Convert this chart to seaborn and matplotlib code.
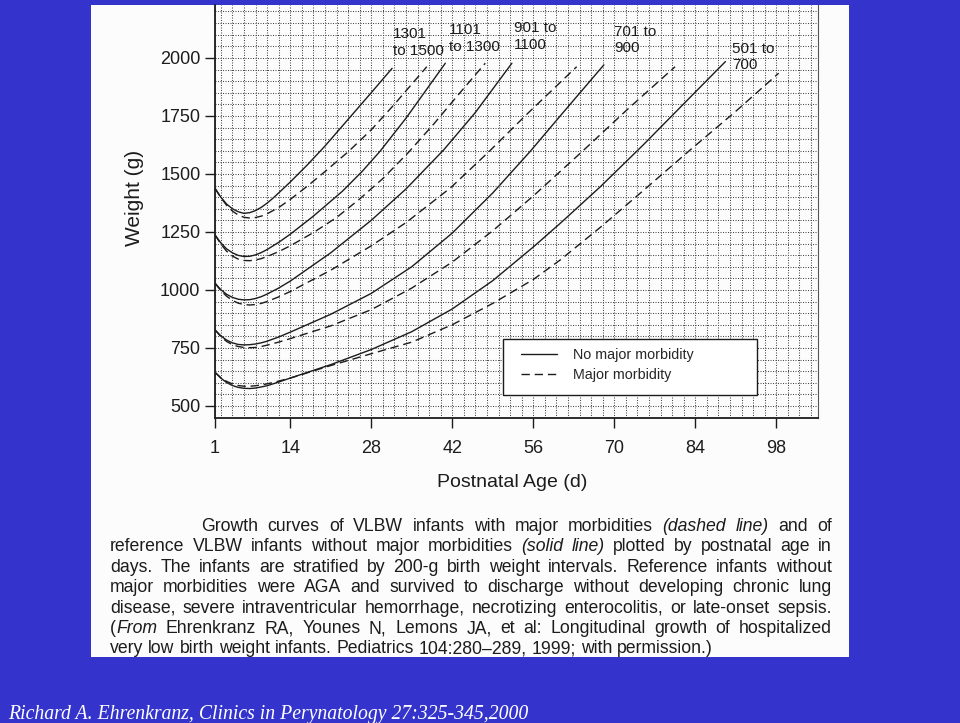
import matplotlib
matplotlib.use("Agg")
import matplotlib.pyplot as plt
from matplotlib.lines import Line2D
from matplotlib.patches import Rectangle
from matplotlib.ticker import MultipleLocator
import pandas as pd
import seaborn as sns

# weight (g) by postnatal age (d)
bw1301_no_day = [1, 2, 3, 4, 5, 6, 7, 8, 9, 10, 11, 12, 14, 17, 20, 24, 28, 31.6]
bw1301_no_wt = [1438, 1400, 1370, 1350, 1337, 1330, 1333, 1342, 1356, 1374, 1395, 1418, 1465, 1540, 1620, 1735, 1850, 1955]
bw1301_mm_day = [1, 2, 3, 4, 5, 6, 7, 8, 9, 10, 12, 14, 17, 20, 24, 28, 32, 37.6]
bw1301_mm_wt = [1438, 1398, 1365, 1340, 1323, 1313, 1310, 1312, 1318, 1328, 1355, 1390, 1448, 1510, 1595, 1690, 1800, 1962]

bw1101_no_day = [1, 2, 3, 4, 5, 6, 7, 8, 9, 10, 12, 14, 18, 23, 26.4, 29.5, 34, 40.8]
bw1101_no_wt = [1237, 1203, 1177, 1160, 1149, 1144, 1145, 1151, 1161, 1174, 1205, 1240, 1318, 1425, 1510, 1597, 1740, 1977]
bw1101_mm_day = [1, 2, 3, 4, 5, 6, 7, 8, 9, 10, 12, 14, 18, 22, 26, 30, 34.4, 38.8, 43, 47.7]
bw1101_mm_wt = [1237, 1198, 1167, 1146, 1133, 1127, 1126, 1129, 1135, 1144, 1165, 1190, 1247, 1312, 1392, 1480, 1592, 1715, 1840, 1977]

bw901_no_day = [1, 2, 3, 4, 5, 6, 7, 8, 9, 10, 12, 14, 21, 28, 34, 40.5, 46, 52.3]
bw901_no_wt = [1029, 1001, 981, 968, 960, 957, 958, 963, 971, 982, 1008, 1038, 1160, 1300, 1435, 1603, 1765, 1977]
bw901_mm_day = [1, 2, 3, 4, 5, 6, 7, 8, 9, 10, 12, 14, 21, 28, 34, 41.7, 48.3, 55, 63.5]
bw901_mm_wt = [1029, 997, 973, 955, 943, 937, 935, 937, 942, 950, 970, 993, 1085, 1190, 1290, 1440, 1595, 1760, 1962]

bw701_no_day = [1, 2, 3, 4, 5, 6, 7, 8, 9, 10, 12, 14, 21, 28, 35, 42, 49, 55.5, 61, 68.2]
bw701_no_wt = [828, 802, 784, 772, 765, 763, 764, 767, 772, 779, 797, 818, 895, 985, 1100, 1245, 1418, 1598, 1760, 1970]
bw701_mm_day = [1, 2, 3, 4, 5, 6, 7, 8, 9, 10, 12, 14, 21, 28, 35, 42, 49, 56, 64.6, 72, 80.5]
bw701_mm_wt = [828, 799, 778, 764, 756, 752, 751, 752, 756, 762, 775, 790, 845, 915, 1008, 1120, 1255, 1405, 1600, 1772, 1962]

bw501_no_day = [1, 2, 3, 4, 5, 6, 7, 8, 10, 12, 14, 21, 28, 35, 42, 49, 56, 60.7, 67.6, 75, 83.1, 89.2]
bw501_no_wt = [645, 620, 601, 588, 580, 576, 575, 577, 587, 603, 620, 678, 743, 820, 918, 1040, 1185, 1288, 1445, 1625, 1830, 1984]
bw501_mm_day = [1, 2, 3, 4, 5, 6, 7, 8, 10, 12, 14, 21, 28, 35, 42, 49, 56, 60.7, 67.6, 75, 83.1, 91, 98.4]
bw501_mm_wt = [645, 622, 606, 595, 588, 585, 585, 587, 595, 607, 620, 674, 725, 775, 850, 942, 1045, 1130, 1270, 1428, 1603, 1770, 1934]

groups = ["1301 to 1500", "1101 to 1300", "901 to 1100", "701 to 900", "501 to 700"]
group_labels = ["1301\nto 1500", "1101\nto 1300", "901 to\n1100", "701 to\n900", "501 to\n700"]
status = ["No major morbidity", "Major morbidity"]
x_ticks = [1, 14, 28, 42, 56, 70, 84, 98]
y_ticks = [500, 750, 1000, 1250, 1500, 1750, 2000]

series = [
    (groups[0], status[0], bw1301_no_day, bw1301_no_wt),
    (groups[0], status[1], bw1301_mm_day, bw1301_mm_wt),
    (groups[1], status[0], bw1101_no_day, bw1101_no_wt),
    (groups[1], status[1], bw1101_mm_day, bw1101_mm_wt),
    (groups[2], status[0], bw901_no_day, bw901_no_wt),
    (groups[2], status[1], bw901_mm_day, bw901_mm_wt),
    (groups[3], status[0], bw701_no_day, bw701_no_wt),
    (groups[3], status[1], bw701_mm_day, bw701_mm_wt),
    (groups[4], status[0], bw501_no_day, bw501_no_wt),
    (groups[4], status[1], bw501_mm_day, bw501_mm_wt),
]
rows = []
for grp, st, days, wts in series:
    for d, w in zip(days, wts):
        rows.append((grp, st, grp + "|" + st, d, w))
df = pd.DataFrame(rows, columns=["group", "status", "curve", "day", "weight"])

W, H = 960, 723
ink = "#1c1c1c"
dash = (6, 3.5)

sns.set_style("ticks")
plt.rcParams["font.family"] = ["Liberation Sans", "DejaVu Sans"]

fig = plt.figure(figsize=(W / 100, H / 100), dpi=100)
fig.patch.set_facecolor("#3434CC")

# the scanned page, behind the axes
fig.patches.append(Rectangle((91 / W, 1 - 657 / H), (849 - 91) / W, (657 - 5) / H,
                             transform=fig.transFigure, facecolor="#FCFCFC",
                             edgecolor="none", zorder=-1))

ax = fig.add_axes([215 / W, 1 - 418 / H, (818 - 215) / W, (418 - 5) / H])
ax.set_facecolor("#FCFCFC")

sns.lineplot(data=df, x="day", y="weight", units="curve", estimator=None,
             style="status", style_order=status,
             dashes={status[0]: "", status[1]: dash},
             color=ink, linewidth=1.0, legend=False, ax=ax)

ax.set_xlim(1, 105.2)
ax.set_ylim(448, 2228)
ax.set_xticks(x_ticks)
ax.set_yticks(y_ticks)
ax.xaxis.set_minor_locator(MultipleLocator(2))
ax.yaxis.set_minor_locator(MultipleLocator(50))
ax.set_axisbelow(True)
ax.grid(which="both", color="#4a4a4a", linewidth=0.75, linestyle=(0, (1, 1.4)))
ax.tick_params(which="minor", length=0)
ax.tick_params(which="major", direction="out", length=7.5, width=1.0, color=ink,
               labelsize=13, labelcolor=ink)
ax.tick_params(axis="x", pad=8)
ax.tick_params(axis="y", pad=3)

ax.spines["top"].set_visible(False)
for side in ["left", "bottom"]:
    ax.spines[side].set_linewidth(1.3)
    ax.spines[side].set_color(ink)
ax.spines["right"].set_linewidth(0.8)
ax.spines["right"].set_color("#555555")

ax.set_xlabel("Postnatal Age (d)", fontsize=14, color=ink)
ax.set_ylabel("Weight (g)", fontsize=15, color=ink)
ax.yaxis.set_label_coords((135 - 215) / 603, (418 - 198) / 413)
ax.xaxis.set_label_coords((512 - 215) / 603, (418 - 482) / 413)
ax.xaxis.label.set_va("center")
ax.yaxis.label.set_va("center")

# birth weight group labels at the ends of the curves
label_pos = [(31.8, 2132), (41.5, 2150), (52.7, 2157), (70.0, 2143), (90.4, 2070)]
for text, (lx, ly) in zip(group_labels, label_pos):
    ax.text(lx, ly, text, fontsize=11, color=ink, ha="left", va="top",
            linespacing=1.25)

# legend box
ax.add_patch(Rectangle(((503 - 215) / 603, (418 - 395) / 413), (757 - 503) / 603,
                       (395 - 339) / 413, transform=ax.transAxes, facecolor="white",
                       edgecolor=ink, linewidth=1.0, zorder=4))
handles = [Line2D([], [], color=ink, lw=1.0),
           Line2D([], [], color=ink, lw=1.0, dashes=dash)]
leg = ax.legend(handles, status, loc="upper left",
                bbox_to_anchor=((521 - 215) / 603, (418 - 348) / 413),
                frameon=False, fontsize=10.3, handlelength=2.5, handletextpad=1.15,
                labelspacing=0.4, borderpad=0, borderaxespad=0)
leg.set_zorder(5)

# caption, justified like the printed page
caption = [
    "Growth curves of VLBW infants with major morbidities *(dashed line)* and of",
    "reference VLBW infants without major morbidities *(solid line)* plotted by postnatal age in",
    "days. The infants are stratified by 200-g birth weight intervals. Reference infants without",
    "major morbidities were AGA and survived to discharge without developing chronic lung",
    "disease, severe intraventricular hemorrhage, necrotizing enterocolitis, or late-onset sepsis.",
    "(*From* Ehrenkranz RA, Younes N, Lemons JA, et al: Longitudinal growth of hospitalized",
    "very low birth weight infants. Pediatrics 104:280\u2013289, 1999; with permission.)",
]


def parse(line):
    words = []
    italic = False
    for raw in line.split(" "):
        parts = []
        for i, seg in enumerate(raw.split("*")):
            if i > 0:
                italic = not italic
            if seg:
                parts.append((seg, italic))
        words.append(parts)
    return words


renderer = fig.canvas.get_renderer()
cap_size = 12.7
for n, line in enumerate(caption):
    x0 = 201 if n == 0 else 110
    x1 = 832
    y = 1 - (531 + n * 20.4) / H
    placed = []
    for parts in parse(line):
        segs = []
        for seg, it in parts:
            t = fig.text(0, y, seg, fontsize=cap_size, color=ink, va="baseline",
                         ha="left", style="italic" if it else "normal")
            segs.append((t, t.get_window_extent(renderer).width))
        placed.append(segs)
    widths = [sum(w for _, w in segs) for segs in placed]
    if n == len(caption) - 1:
        gap = 0.278 * cap_size * 100 / 72
    else:
        gap = (x1 - x0 - sum(widths)) / (len(placed) - 1)
    x = x0
    for segs, wd in zip(placed, widths):
        xs = x
        for t, w in segs:
            t.set_x(xs / W)
            xs += w
        x += wd + gap

fig.text(8 / W, 1 - 719 / H, "Richard A. Ehrenkranz, Clinics in Perynatology 27:325-345,2000",
         family=["Liberation Serif", "DejaVu Serif"], style="italic", fontsize=14.2,
         color="white", va="baseline", ha="left")

fig.savefig("out.png", dpi=100, facecolor=fig.get_facecolor())
